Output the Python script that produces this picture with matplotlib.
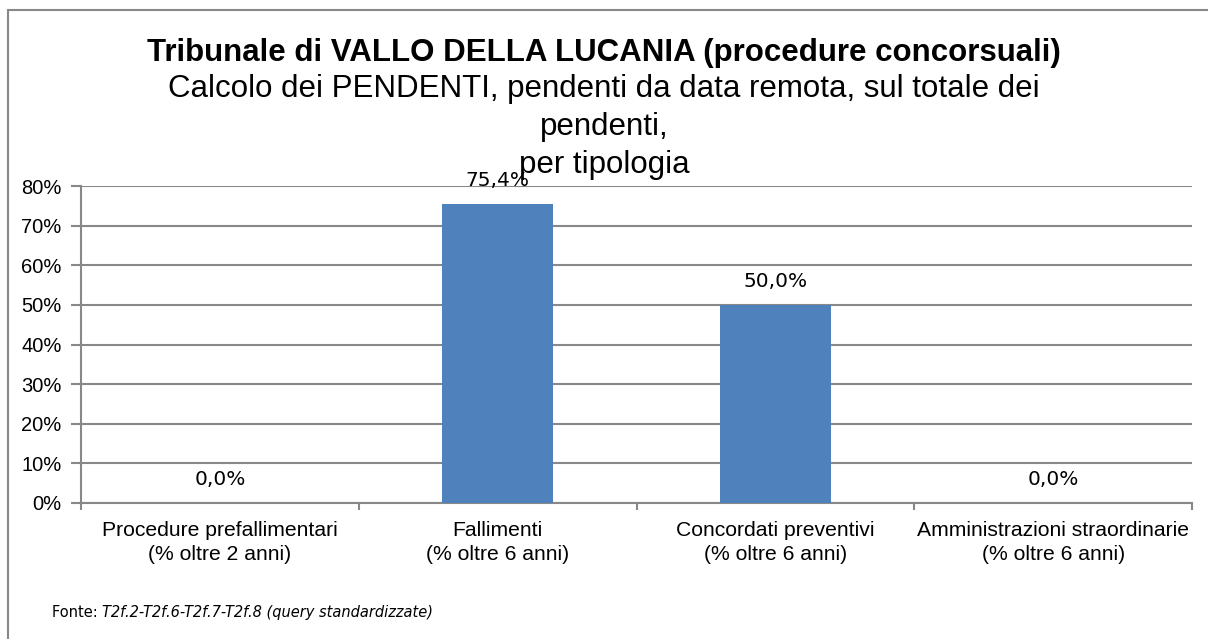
import matplotlib
matplotlib.use("Agg")
import matplotlib.pyplot as plt
from matplotlib.patches import Rectangle
from matplotlib.ticker import FixedLocator, PercentFormatter

categories = [
    "Procedure prefallimentari\n(% oltre 2 anni)",
    "Fallimenti\n(% oltre 6 anni)",
    "Concordati preventivi\n(% oltre 6 anni)",
    "Amministrazioni straordinarie\n(% oltre 6 anni)",
]
values = [0.0, 75.4, 50.0, 0.0]
value_labels = ["0,0%", "75,4%", "50,0%", "0,0%"]
yticks = [0, 10, 20, 30, 40, 50, 60, 70, 80]

W, H = 1208, 639
fig = plt.figure(figsize=(W / 100, H / 100), dpi=100)

# outer frame (left + top visible)
fig.patches.append(Rectangle((8 / W, -0.1), 1.2, (H - 10) / H + 0.1, transform=fig.transFigure,
                             fill=False, edgecolor="#888888", linewidth=1.5))

ax = fig.add_axes([81 / W, (H - 503) / H, (1192 - 81) / W, (503 - 186) / H])
x = list(range(len(categories)))
ax.bar(x, values, width=0.4, color="#4F81BD", zorder=3)
ax.set_xlim(-0.5, len(categories) - 0.5)
ax.set_ylim(0, 80)
ax.yaxis.set_major_locator(FixedLocator(yticks))
ax.yaxis.set_major_formatter(PercentFormatter(decimals=0))
ax.grid(axis="y", color="#888888", linewidth=1.5, zorder=0)
for s in ["top", "right"]:
    ax.spines[s].set_visible(False)
for s in ["left", "bottom"]:
    ax.spines[s].set_color("#888888")
    ax.spines[s].set_linewidth(1.5)
ax.set_xticks([i - 0.5 for i in range(len(categories) + 1)])
ax.set_xticklabels([])
ax.set_xticks(x, minor=True)
ax.set_xticklabels(categories, minor=True, fontfamily="Liberation Sans", fontsize=15.2,
                   linespacing=1.35)
ax.tick_params(axis="x", which="major", length=5, color="#888888", width=1.5)
ax.tick_params(axis="x", which="minor", length=0, pad=13)
ax.tick_params(axis="y", length=7, color="#888888", width=1.5, pad=7)
for lab in ax.get_yticklabels():
    lab.set_fontfamily("Liberation Sans")
    lab.set_fontsize(14.5)

for xi, v, lab in zip(x, values, value_labels):
    ax.annotate(lab, (xi, v), xytext=(0, 18 * 0.72), textcoords="offset points",
                ha="center", va="baseline", fontsize=14.5, fontfamily="DejaVu Sans", zorder=4)

fig.text(0.5, 1 - 61 / H, "Tribunale di VALLO DELLA LUCANIA (procedure concorsuali)",
         ha="center", va="baseline", fontsize=22.5, fontweight="bold", fontfamily="Liberation Sans")
sub_lines = ["Calcolo dei PENDENTI, pendenti da data remota, sul totale dei", "pendenti,", "per tipologia"]
for i, line in enumerate(sub_lines):
    fig.text(0.5, 1 - (97 + 38 * i) / H, line, ha="center", va="baseline", fontsize=22.5,
             fontfamily="Liberation Sans")

t0 = fig.text(52 / W, 1 - 617 / H, "Fonte: ", ha="left", va="baseline", fontsize=10.5,
              fontfamily="DejaVu Sans")
fig.canvas.draw()
bb = t0.get_window_extent()
fig.text(bb.x1 / W, 1 - 617 / H, "T2f.2-T2f.6-T2f.7-T2f.8 (query standardizzate)", ha="left",
         va="baseline", fontsize=10.5, fontfamily="DejaVu Sans", style="italic")

fig.savefig("out.png", dpi=100)
